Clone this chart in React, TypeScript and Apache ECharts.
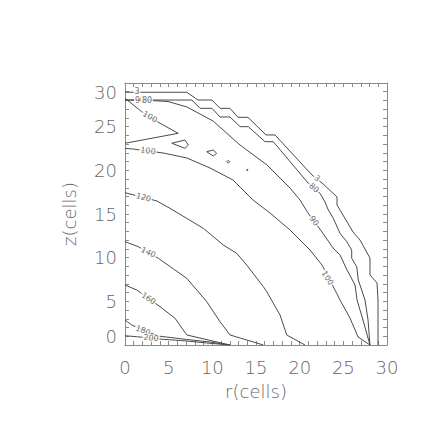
import React, { useEffect, useRef } from 'react';
import * as echarts from 'echarts';

// axis tick labels (cells); minor ticks every cell
const rTickValues = [0, 5, 10, 15, 20, 25, 30];
const zTickValues = [0, 5, 10, 15, 20, 25, 30];
const cellStep = 1;

// contour lines, [r, z] in cells
const contour3 = [
  [0, 28.94], [7.07, 28.94], [8.36, 28.05], [9.96, 28.05], [10.88, 27.1], [12.02, 27.1],
  [12.94, 26.07], [14.08, 26.07], [16.15, 24.05], [17.18, 24.05], [21.41, 19.47],
  [22.56, 18.55], [24.28, 16.95], [24.28, 16.03], [26.11, 12.94], [26.91, 12.02],
  [28.05, 9.96], [28.05, 8.02], [28.86, 7.1], [28.97, 5.15], [28.97, 0],
];
const contour80 = [
  [0, 28.05], [7.67, 28.05], [8.59, 27.1], [9.96, 27.1], [10.88, 26.11], [12.02, 26.11],
  [13.17, 25.0], [14.12, 25.0], [16.03, 23.28], [16.98, 23.28], [20.99, 18.52],
  [22.33, 17.37], [22.9, 16.37], [23.28, 15.46], [23.85, 14.51], [24.62, 12.79],
  [25.39, 11.83], [25.96, 10.88], [25.96, 9.93], [26.53, 8.97], [26.71, 7.44],
  [27.1, 6.3], [27.48, 5.15], [27.83, 2.86], [28.05, 0],
];
const contour90 = [
  [0, 28.05], [2.86, 28.0], [4.92, 27.88], [7.1, 27.25], [10.08, 25.65], [13.17, 22.9],
  [16.26, 20.61], [18.89, 17.98], [20.04, 16.6], [20.95, 15.12], [22.56, 12.94],
  [23.82, 11.11], [24.62, 10.31], [25.42, 8.59], [26.34, 6.87], [26.57, 5.15],
  [27.25, 2.86], [28.05, 0],
];
const contour100Wedge = [
  [0, 28.25], [1.91, 26.71], [4.01, 25.39], [6.1, 24.24], [0, 23.1],
];
const contour100 = [
  [0, 22.52], [0.92, 22.44], [4.35, 21.99], [7.1, 21.41], [9.73, 20.27], [12.37, 18.89],
  [14.66, 16.6], [16.6, 15.12], [18.89, 13.17], [21.18, 10.88], [22.56, 9.16],
  [24.24, 5.92], [24.62, 5.15], [25.76, 3.09], [26.68, 0.92], [28.05, 0],
];
const loop100a = [[5.35, 23.1], [6.87, 23.47], [7.25, 22.9], [6.87, 22.52], [5.35, 23.1]];
const loop100b = [[9.36, 22.13], [10.11, 22.33], [10.5, 21.95], [10.11, 21.64], [9.36, 22.13]];
const loop100c = [[11.66, 20.99], [11.83, 21.16], [12.0, 20.99], [11.83, 20.82], [11.66, 20.99]];
const loop100d = [[13.9, 20.04], [14.0, 20.14], [14.1, 20.04], [14.0, 19.94], [13.9, 20.04]];
const contour120 = [
  [0, 17.44], [0.57, 17.29], [3.66, 16.49], [5.15, 15.65], [8.97, 13.36], [11.26, 11.45],
  [12.79, 10.5], [13.94, 9.16], [15.84, 6.68], [16.23, 6.1], [17.75, 3.44], [18.52, 1.15],
  [20.61, 0],
];
const contour140 = [
  [0, 11.83], [1.52, 11.26], [3.81, 9.93], [7.07, 7.64], [9.36, 4.96], [10.88, 2.67],
  [12.02, 1.15], [15.84, 0],
];
const contour160 = [
  [0, 6.87], [1.34, 6.3], [4.01, 4.39], [5.73, 3.06], [7.07, 1.15], [12.02, 0],
];
const contour180 = [
  [0, 2.86], [0.77, 2.29], [3.78, 1.03], [7.07, 0.63], [9.73, 0.34], [12.02, 0],
];
const contour200 = [
  [0, 1.06], [1.34, 0.95], [4.39, 0.65], [7.07, 0.46], [9.36, 0.23], [12.02, 0],
];

// contour labels
const labelTexts = ['3', '90', '80', '100', '100', '120', '140', '160', '180', '200', '3', '80', '90', '100'];
const labelR = [1.37, 1.72, 2.52, 2.86, 2.63, 2.12, 2.67, 2.69, 2.06, 2.98, 21.99, 21.64, 21.64, 23.19];
const labelZ = [29.02, 28.05, 28.05, 26.11, 22.22, 16.89, 10.59, 5.32, 1.66, 0.8, 19.07, 17.98, 14.2, 7.67];
const labelAngles = [0, 0, 0, -30, -8, -15, -25, -33, -22, -5, -42, -42, -54, -58];

const contourLines = [
  contour3, contour80, contour90, contour100Wedge, contour100,
  loop100a, loop100b, loop100c, loop100d,
  contour120, contour140, contour160, contour180, contour200,
];

const FONT = '"DejaVu Sans", sans-serif';
const LINE = '#4a4a4a';
const FRAME = '#8a8a8a';
const TEXT = '#666';

export default function App() {
  const ref = useRef<HTMLDivElement>(null);
  useEffect(() => {
    if (!ref.current) return;
    const chart = echarts.init(ref.current, undefined, { renderer: 'svg' });
    const rMin = rTickValues[0];
    const rMax = rTickValues[rTickValues.length - 1];
    const zMin = zTickValues[0];
    const zMax = zTickValues[zTickValues.length - 1];

    const axisCommon = {
      type: 'value',
      interval: cellStep,
      axisLine: { show: true, onZero: false, lineStyle: { color: FRAME, width: 1 } },
      axisTick: { show: true, inside: true, length: 4, lineStyle: { color: FRAME } },
      minorTick: { show: false },
      splitLine: { show: false },
      minorSplitLine: { show: false },
    };
    const labelStyle = { fontFamily: FONT, fontSize: 18, color: TEXT, fontWeight: 200 };

    const series: any[] = contourLines.map((pts) => ({
      type: 'line',
      data: pts,
      symbol: 'none',
      silent: true,
      xAxisIndex: 0,
      yAxisIndex: 0,
      lineStyle: { color: LINE, width: 1 },
    }));

    series.push({
      type: 'scatter',
      xAxisIndex: 0,
      yAxisIndex: 0,
      symbolSize: 0,
      silent: true,
      z: 5,
      data: labelTexts.map((t, i) => ({
        name: t,
        value: [labelR[i], labelZ[i]],
        label: { rotate: labelAngles[i] },
      })),
      label: {
        show: true,
        position: 'inside',
        formatter: (p: any) => p.name,
        fontFamily: FONT,
        fontSize: 8,
        color: '#444',
        backgroundColor: '#fff',
        padding: [0, 1],
      },
    });

    chart.setOption({
      animation: false,
      backgroundColor: '#fff',
      grid: { left: 125, top: 83, width: 262, height: 262, containLabel: false },
      xAxis: [
        {
          ...axisCommon,
          position: 'bottom',
          min: rMin,
          max: rMax,
          name: 'r(cells)',
          nameLocation: 'middle',
          nameGap: 37,
          nameTextStyle: labelStyle,
          axisLabel: {
            show: true,
            margin: 13,
            ...labelStyle,
            formatter: (v: number) => (rTickValues.includes(v) ? String(v) : ''),
          },
        },
        {
          ...axisCommon,
          position: 'top',
          min: rMin,
          max: rMax,
          axisLabel: { show: false },
        },
      ],
      yAxis: [
        {
          ...axisCommon,
          position: 'left',
          min: zMin,
          max: zMax,
          name: 'z(cells)',
          nameLocation: 'middle',
          nameGap: 47,
          nameRotate: 90,
          nameTextStyle: labelStyle,
          axisLabel: {
            show: true,
            margin: 8,
            ...labelStyle,
            verticalAlignMinLabel: 'bottom',
            verticalAlignMaxLabel: 'top',
            formatter: (v: number) => (zTickValues.includes(v) ? String(v) : ''),
          },
        },
        {
          ...axisCommon,
          position: 'right',
          min: zMin,
          max: zMax,
          axisLabel: { show: false },
        },
      ],
      series,
    });
    return () => chart.dispose();
  }, []);
  return <div ref={ref} style={{ position: 'absolute', left: 0, top: 0, width: 425, height: 425 }} />;
}
